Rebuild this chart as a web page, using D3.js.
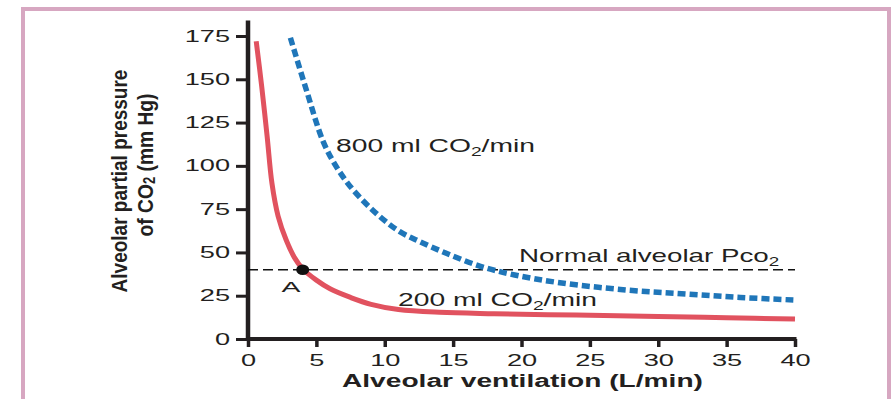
<!DOCTYPE html>
<html><head><meta charset="utf-8">
<script src="https://cdn.jsdelivr.net/npm/d3@7"></script>
<style>html,body{margin:0;padding:0;background:#fff;} svg{display:block;}</style>
</head><body>
<svg id="chart" width="895" height="399"></svg>
<script>
// ---- data ----
const xTicks = [0, 5, 10, 15, 20, 25, 30, 35, 40];
const yTicks = [0, 25, 50, 75, 100, 125, 150, 175];
const ventRed = [0.6, 1.0, 1.4, 1.75, 2.2, 2.8, 3.4, 4.0, 5.0, 6.0, 7.5, 9.0, 11, 14, 18, 24, 30, 35, 40];
const pco2Red = [172, 146, 117, 90, 71, 57, 47, 40.5, 34, 29, 24, 20, 17, 15.4, 14.6, 13.8, 13, 12.3, 11.5];
const ventBlue = [3.1, 4.3, 5.5, 6.5, 7.7, 9.6, 11.1, 12.5, 14.5, 17, 19.5, 22.8, 27.7, 32, 36, 40];
const pco2Blue = [174, 143, 114, 99, 86, 71, 62, 56.5, 49.5, 42, 37, 32.5, 28.3, 26, 24, 22.5];
const normalPco2 = 40;
const pointA = { v: 4, p: 40, label: "A" };
const yAxisTop = 184;
const labels = {
  high: ["800 ml CO", "2", "/min"],
  low: ["200 ml CO", "2", "/min"],
  normal: ["Normal alveolar Pco", "2", ""],
  xTitle: "Alveolar ventilation (L/min)",
  yTitle1: "Alveolar partial pressure",
  yTitle2: ["of CO", "2", " (mm Hg)"]
};

// ---- layout ----
const svg = d3.select("#chart");
const FONT = "'Liberation Sans', Arial, Helvetica, sans-serif";
const INK = "#231f20";
const x = d3.scaleLinear().domain([0, 40]).range([248, 795]);
const y = d3.scaleLinear().domain([0, 175]).range([339, 36]);

// pink frame
svg.append("rect").attr("x", 23).attr("y", 9).attr("width", 866).attr("height", 420)
  .attr("fill", "none").attr("stroke", "#d7a7c1").attr("stroke-width", 4);

// axes
const TICK_STRETCH = 1.7;
function stretchTicks(sel, s) {
  sel.each(function () {
    const t = d3.select(this);
    const x0 = +(t.attr("x") || 0);
    t.attr("transform", `translate(${x0 * (1 - s)},0) scale(${s},1)`);
  });
}
const gy = svg.append("g").attr("transform", `translate(${x(0)},0)`)
  .call(d3.axisLeft(y).tickValues(yTicks).tickSize(12).tickSizeOuter(0).tickPadding(6));
gy.select(".domain").remove();
gy.selectAll(".tick line").attr("stroke", INK).attr("stroke-width", 3);
gy.selectAll(".tick text").attr("font-family", FONT).attr("font-size", 16).attr("fill", INK)
  .call(stretchTicks, TICK_STRETCH);

const gx = svg.append("g").attr("transform", `translate(0,${y(0)})`)
  .call(d3.axisBottom(x).tickValues(xTicks).tickSize(8).tickSizeOuter(0).tickPadding(8));
gx.select(".domain").remove();
gx.selectAll(".tick line").attr("stroke", INK).attr("stroke-width", 3.5);
gx.selectAll(".tick text").attr("font-family", FONT).attr("font-size", 16).attr("fill", INK)
  .call(stretchTicks, TICK_STRETCH);

svg.append("line").attr("x1", x(0)).attr("x2", x(0)).attr("y1", y(0) + 2).attr("y2", y(yAxisTop))
  .attr("stroke", INK).attr("stroke-width", 4.5);
svg.append("line").attr("x1", x(0) - 2).attr("x2", x(40) + 1.5).attr("y1", y(0)).attr("y2", y(0))
  .attr("stroke", INK).attr("stroke-width", 4);

// normal line
svg.append("line").attr("x1", x(0)).attr("x2", x(40)).attr("y1", y(normalPco2)).attr("y2", y(normalPco2))
  .attr("stroke", "#111").attr("stroke-width", 1.5).attr("stroke-dasharray", "10,5");

// curves
const line = d3.line().x(d => x(d[0])).y(d => y(d[1])).curve(d3.curveCatmullRom.alpha(0.5));
svg.append("path").datum(ventBlue.map((v, i) => [v, pco2Blue[i]]))
  .attr("d", line).attr("fill", "none").attr("stroke", "#1f76b9").attr("stroke-width", 5.5)
  .attr("stroke-dasharray", "8,4");
svg.append("path").datum(ventRed.map((v, i) => [v, pco2Red[i]]))
  .attr("d", line).attr("fill", "none").attr("stroke", "#e1525f").attr("stroke-width", 5)
  .attr("stroke-linecap", "butt");

// point A
svg.append("ellipse").attr("cx", x(pointA.v)).attr("cy", y(pointA.p)).attr("rx", 6.5).attr("ry", 5.3)
  .attr("fill", "#111");

// text helper: place text with left/centre anchor and stretch to target width
function label(parts, px, py, width, opts = {}) {
  const g = svg.append("g");
  const t = g.append("text").attr("font-family", FONT).attr("font-size", opts.size || 17)
    .attr("font-weight", opts.weight || "normal").attr("fill", INK)
    .attr("text-anchor", opts.anchor || "start");
  if (typeof parts === "string") t.text(parts);
  else {
    t.append("tspan").text(parts[0]);
    t.append("tspan").attr("font-size", (opts.size || 17) * 0.68).attr("dy", 4).text(parts[1]);
    if (parts[2]) t.append("tspan").attr("dy", -4).text(parts[2]);
  }
  const w = t.node().getBBox().width;
  const s = width / w;
  g.attr("transform", `translate(${px},${py}) scale(${s},1)`);
  return g;
}
label(labels.high, 336, 152, 199, { size: 17.5 });
label(labels.low, 398, 306, 199, { size: 17.5 });
label(labels.normal, 519, 262, 261, { size: 17.5 });
label(pointA.label, 291, 292, 19, { size: 15, anchor: "middle" });
label(labels.xTitle, 342, 387, 361, { size: 18, weight: "bold" });

// rotated y title
function vlabel(parts, cx, cy, length, sx, size) {
  const g = svg.append("g");
  const t = g.append("text").attr("font-family", FONT).attr("font-size", size)
    .attr("font-weight", "bold").attr("fill", INK).attr("text-anchor", "middle")
    .attr("dominant-baseline", "central").attr("transform", "rotate(-90)");
  if (typeof parts === "string") t.text(parts);
  else {
    t.append("tspan").text(parts[0]);
    t.append("tspan").attr("font-size", size * 0.68).attr("dy", 4).text(parts[1]);
    t.append("tspan").attr("dy", -4).text(parts[2]);
  }
  const len = t.node().getComputedTextLength();
  g.attr("transform", `translate(${cx},${cy}) scale(${sx},${length / len})`);
}
vlabel(labels.yTitle1, 118.5, 181, 223, 1.35, 17);
vlabel(labels.yTitle2, 144.5, 165, 143, 1.35, 17);
</script>
</body></html>
